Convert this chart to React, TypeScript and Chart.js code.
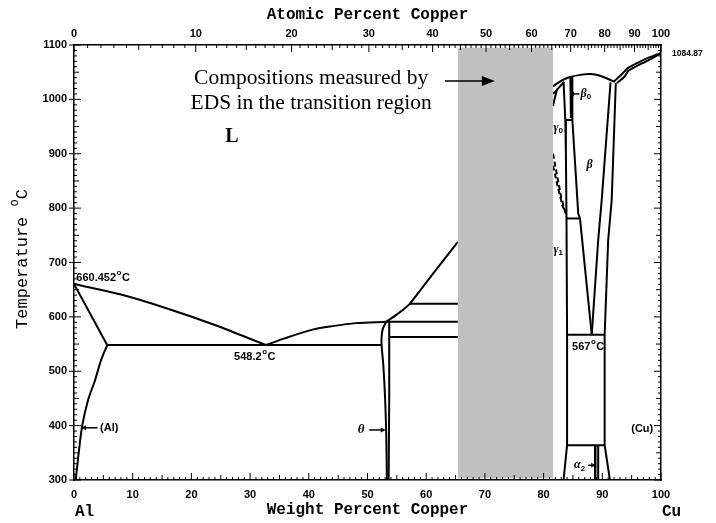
import React, { useEffect, useRef } from 'react';
import { Chart, registerables } from 'chart.js';
Chart.register(...registerables);

// ---------- axis ticks ----------
const WT_TICKS = [0, 10, 20, 30, 40, 50, 60, 70, 80, 90, 100];
const AT_TICKS = [0, 10, 20, 30, 40, 50, 60, 70, 80, 90, 100];
const TEMP_TICKS = [300, 400, 500, 600, 700, 800, 900, 1000, 1100];

// ---------- phase boundaries [wt% Cu, °C] ----------
const LIQUIDUS_AL = [[0, 660.452], [8, 641], [16, 615], [24, 585], [32.7, 548.2]];
const SOLIDUS_AL = [[0, 660.452], [5.65, 548.2]];
const SOLVUS_AL = [[5.65, 548.2], [4.6, 520], [3.6, 484], [2.4, 447], [1.4, 400], [0.8, 350], [0.3, 300]];
const EUTECTIC_548 = [[5.65, 548.2], [52.4, 548.2]];
const LIQUIDUS_THETA = [[32.7, 548.2], [36, 561], [40.8, 577], [44, 583], [48, 588.5], [53.2, 591]];
const LIQUIDUS_MID = [[53.2, 591], [55.2, 606], [57.2, 624], [61.2, 680], [65.4, 738]];
const THETA_LEFT = [[53.2, 591], [52.6, 578], [52.4, 563], [52.4, 548.2], [52.7, 510], [53.0, 450], [53.2, 380], [53.3, 300]];
const THETA_RIGHT = [[53.7, 591], [53.7, 450], [53.6, 300]];
const HORIZ_624 = [[57.2, 624], [65.4, 624]];
const HORIZ_591 = [[53.2, 591], [65.4, 591]];
const HORIZ_563 = [[53.7, 563], [65.4, 563]];

const LIQUIDUS_BETA = [[81.6, 1024], [83, 1034], [84.5, 1041], [86.5, 1045.5], [88, 1046.5], [89.5, 1044], [91, 1037.5], [92.1, 1032]];
const SOLIDUS_GAMMA0 = [[81.6, 1010], [83.5, 1032]];
const GAMMA0_LEFT = [[82.3, 1018], [81.9, 1002], [81.6, 988]];
const GAMMA1_LEFT = [[83.4, 1032], [83.7, 962], [83.8, 900], [83.9, 781], [84.0, 567], [84.0, 364], [83.4, 300]];
const BETA0_LINE = [[84.6, 1040], [84.7, 966]];
const BETA_LEFT = [[84.9, 1041], [84.9, 962], [85.9, 790], [86.2, 781], [88.2, 567]];
const HORIZ_962 = [[83.7, 962], [84.9, 962]];
const HORIZ_781 = [[83.9, 781], [86.2, 781]];
const BETA_RIGHT = [[91.4, 1031], [89.9, 815], [89.3, 741], [88.2, 567]];
const CU_SOLVUS = [[92.3, 1030], [91.6, 815], [91.0, 741], [90.4, 567], [90.4, 364], [91.3, 300]];
const EUTECTOID_567 = [[84.0, 567], [90.4, 567]];
const HORIZ_364 = [[84.0, 364], [90.4, 364]];
const ALPHA2_LEFT = [[88.8, 364], [88.8, 300]];
const ALPHA2_RIGHT = [[89.3, 364], [89.3, 300]];
const LIQUIDUS_CU = [[92.0, 1033], [93.5, 1048], [94.4, 1058], [96, 1067], [97.3, 1074], [98.7, 1080], [100, 1084.87]];
const SOLIDUS_CU = [[92.5, 1030], [93.8, 1042], [94.4, 1052], [96, 1062], [97.3, 1069], [98.7, 1077], [100, 1084.87]];
const DASHED_1 = [[81.6, 900], [82.3, 860], [83.0, 820], [83.7, 792]];
const DASHED_2 = [[81.6, 878], [82.4, 840], [83.2, 805], [83.8, 790]];

// gray EDS band [wt% from, wt% to], [°C from, °C to]
const EDS_BAND_WT = [65.4, 81.6];
const EDS_BAND_T = [303, 1095];

const atToWt = (a: number) => (100 * a * 63.546) / (a * 63.546 + (100 - a) * 26.9815);
const toPts = (a: number[][]) => a.map(([x, y]) => ({ x, y }));

const SOLID_LINES: { d: number[][]; w?: number; t?: number }[] = [
  { d: LIQUIDUS_AL, t: 0.3 }, { d: SOLIDUS_AL }, { d: SOLVUS_AL, t: 0.3 }, { d: EUTECTIC_548 },
  { d: LIQUIDUS_THETA, t: 0.3 }, { d: LIQUIDUS_MID, t: 0.15 }, { d: THETA_LEFT, t: 0.3 }, { d: THETA_RIGHT },
  { d: HORIZ_624 }, { d: HORIZ_591 }, { d: HORIZ_563 },
  { d: LIQUIDUS_BETA, t: 0.35 }, { d: SOLIDUS_GAMMA0 }, { d: GAMMA0_LEFT, t: 0.3 }, { d: GAMMA1_LEFT },
  { d: BETA0_LINE, w: 2.5 }, { d: BETA_LEFT, w: 2 }, { d: HORIZ_962 }, { d: HORIZ_781 },
  { d: BETA_RIGHT }, { d: CU_SOLVUS }, { d: EUTECTOID_567 }, { d: HORIZ_364 },
  { d: ALPHA2_LEFT, w: 2.5 }, { d: ALPHA2_RIGHT },
  { d: LIQUIDUS_CU, t: 0.3 }, { d: SOLIDUS_CU, t: 0.3 },
];
const DASHED_LINES = [DASHED_1, DASHED_2];

const TICK_FONT = "bold 11px 'Liberation Sans', Arial, sans-serif";
const MONO = "'Liberation Mono', 'DejaVu Sans Mono', monospace";
const SERIF = "'Liberation Serif', 'DejaVu Serif', serif";

function arrow(ctx: CanvasRenderingContext2D, x1: number, y1: number, x2: number, y2: number, head: number, hw: number, lw: number) {
  const ang = Math.atan2(y2 - y1, x2 - x1);
  ctx.beginPath();
  ctx.lineWidth = lw;
  ctx.moveTo(x1, y1);
  ctx.lineTo(x2 - Math.cos(ang) * head * 0.8, y2 - Math.sin(ang) * head * 0.8);
  ctx.stroke();
  ctx.beginPath();
  ctx.moveTo(x2, y2);
  ctx.lineTo(x2 - Math.cos(ang) * head - Math.sin(ang) * hw / 2, y2 - Math.sin(ang) * head + Math.cos(ang) * hw / 2);
  ctx.lineTo(x2 - Math.cos(ang) * head + Math.sin(ang) * hw / 2, y2 - Math.sin(ang) * head - Math.cos(ang) * hw / 2);
  ctx.closePath();
  ctx.fill();
}

function degText(ctx: CanvasRenderingContext2D, num: string, x: number, y: number, align: 'left' | 'center') {
  ctx.textBaseline = 'middle';
  ctx.font = TICK_FONT;
  const w1 = ctx.measureText(num).width;
  ctx.font = "bold 8px 'Liberation Sans', Arial, sans-serif";
  const w2 = ctx.measureText('o').width;
  ctx.font = TICK_FONT;
  const w3 = ctx.measureText('C').width;
  const total = w1 + w2 + w3 + 1;
  const sx = align === 'left' ? x : x - total / 2;
  ctx.textAlign = 'left';
  ctx.fillText(num, sx, y);
  ctx.font = "bold 8px 'Liberation Sans', Arial, sans-serif";
  ctx.fillText('o', sx + w1 + 0.5, y - 5);
  ctx.font = TICK_FONT;
  ctx.fillText('C', sx + w1 + w2 + 1, y);
}

function subText(ctx: CanvasRenderingContext2D, main: string, sub: string, x: number, y: number) {
  ctx.textBaseline = 'middle';
  ctx.textAlign = 'left';
  ctx.font = "bold italic 12px 'Liberation Serif', serif";
  const w = ctx.measureText(main).width;
  ctx.fillText(main, x, y);
  if (sub) {
    ctx.font = "bold 8px 'Liberation Sans', sans-serif";
    ctx.fillText(sub, x + w, y + 3);
  }
}

const decor = {
  id: 'decor',
  afterDatasetsDraw(chart: any) {
    const { ctx, scales } = chart;
    const x = scales.x, y = scales.y;
    ctx.save();
    ctx.fillStyle = '#c0c0c0';
    const x0 = x.getPixelForValue(EDS_BAND_WT[0]);
    const x1 = x.getPixelForValue(EDS_BAND_WT[1]);
    const y0 = y.getPixelForValue(EDS_BAND_T[1]);
    const y1 = y.getPixelForValue(EDS_BAND_T[0]);
    ctx.fillRect(x0, y0, x1 - x0, y1 - y0);
    ctx.restore();
  },
  afterDraw(chart: any) {
    const { ctx, chartArea: ca, scales } = chart;
    const x = scales.x, y = scales.y;
    const X = (v: number) => x.getPixelForValue(v);
    const Y = (v: number) => y.getPixelForValue(v);
    ctx.save();
    ctx.strokeStyle = '#000';
    ctx.fillStyle = '#000';
    ctx.lineWidth = 1;
    // ticks
    ctx.beginPath();
    for (let w = 0; w <= 100; w++) {
      const len = w % 10 === 0 ? 7 : w % 5 === 0 ? 5 : 3;
      const px = X(w);
      ctx.moveTo(px, ca.bottom); ctx.lineTo(px, ca.bottom - len);
    }
    for (let a = 0; a <= 100; a++) {
      const len = a % 10 === 0 ? 7 : a % 5 === 0 ? 5 : 3;
      const px = X(atToWt(a));
      ctx.moveTo(px, ca.top); ctx.lineTo(px, ca.top + len);
    }
    for (let t = 300; t <= 1100; t += 10) {
      const len = t % 100 === 0 ? 7 : t % 50 === 0 ? 5 : 3;
      const py = Y(t);
      ctx.moveTo(ca.left - (t % 100 === 0 ? 5 : 0), py); ctx.lineTo(ca.left + len, py);
      ctx.moveTo(ca.right, py); ctx.lineTo(ca.right - len, py);
    }
    ctx.stroke();

    // axis titles
    ctx.font = `bold 16px ${MONO}`;
    ctx.textAlign = 'center';
    ctx.textBaseline = 'middle';
    const cx = (ca.left + ca.right) / 2;
    ctx.fillText('Atomic Percent Copper', cx, 15);
    ctx.fillText('Weight Percent Copper', cx, 510);
    ctx.textAlign = 'left';
    ctx.fillText('Al', X(0) + 1, 512);
    ctx.fillText('Cu', X(100) + 1, 512);

    // y title
    ctx.save();
    ctx.translate(22, 259);
    ctx.rotate(-Math.PI / 2);
    ctx.font = `17px ${MONO}`;
    const t1 = 'Temperature ';
    const w1 = ctx.measureText(t1).width;
    ctx.font = `12px ${MONO}`;
    const w2 = ctx.measureText('o').width;
    ctx.font = `17px ${MONO}`;
    const w3 = ctx.measureText('C').width;
    const sx = -(w1 + w2 + w3) / 2;
    ctx.textAlign = 'left';
    ctx.textBaseline = 'middle';
    ctx.fillText(t1, sx, 0);
    ctx.font = `12px ${MONO}`;
    ctx.fillText('o', sx + w1, -7);
    ctx.font = `17px ${MONO}`;
    ctx.fillText('C', sx + w1 + w2, 0);
    ctx.restore();

    // Annotations
    ctx.font = `21.5px ${SERIF}`;
    ctx.textAlign = 'center';
    ctx.textBaseline = 'middle';
    ctx.fillText('Compositions measured by', X(40.4), Y(1039));
    ctx.fillText('EDS in the transition region', X(40.4), Y(993));
    arrow(ctx, X(63.2), Y(1034), X(71.7), Y(1034), 13, 10, 1.5);

    ctx.font = `bold 20px ${SERIF}`;
    ctx.fillText('L', X(26.9), Y(931));

    degText(ctx, '660.452', X(0.4), Y(671), 'left');
    degText(ctx, '548.2', X(30.8), Y(526), 'center');
    degText(ctx, '567', X(87.6), Y(545), 'center');

    ctx.font = "bold 8.5px 'Liberation Sans', Arial, sans-serif";
    ctx.textAlign = 'left';
    ctx.textBaseline = 'middle';
    ctx.fillText('1084.87', ca.right + 11, Y(1085));

    ctx.font = TICK_FONT;
    ctx.textAlign = 'center';
    ctx.fillText('(Al)', X(6.0), Y(396));
    arrow(ctx, X(4.0), Y(396), X(1.2), Y(396), 5, 5, 1.5);
    ctx.fillText('(Cu)', X(96.8), Y(394));

    ctx.font = "bold italic 13px 'Liberation Serif', serif";
    ctx.fillText('θ', X(48.9), Y(392));
    arrow(ctx, X(50.3), Y(392), X(53.1), Y(392), 5, 5, 1.5);

    subText(ctx, 'α', '2', X(85.2), Y(327));
    arrow(ctx, X(87.6), Y(327), X(88.8), Y(327), 4, 5, 1.5);
    subText(ctx, 'β', '0', X(86.3), Y(1010));
    arrow(ctx, X(86.1), Y(1010), X(84.5), Y(1010), 4, 5, 1.5);
    subText(ctx, 'γ', '0', X(81.7), Y(947));
    subText(ctx, 'β', '', X(87.3), Y(879));
    subText(ctx, 'γ', '1', X(81.7), Y(723));
    ctx.restore();
  },
};

const AXIS_FONT = { family: "'Liberation Sans', Arial, sans-serif", size: 11, weight: 'bold' };

export default function App() {
  const ref = useRef<HTMLCanvasElement>(null);
  useEffect(() => {
    document.body.style.margin = '0';
    const datasets: any[] = [
      ...SOLID_LINES.map((l) => ({
        data: toPts(l.d),
        showLine: true,
        borderColor: '#000',
        borderWidth: l.w ?? 2,
        pointRadius: 0,
        tension: l.t ?? 0,
        fill: false,
      })),
      ...DASHED_LINES.map((d) => ({
        data: toPts(d),
        showLine: true,
        borderColor: '#000',
        borderWidth: 2,
        borderDash: [5, 3],
        pointRadius: 0,
        tension: 0,
        fill: false,
      })),
    ];
    const chart = new Chart(ref.current!, {
      type: 'scatter',
      data: { datasets },
      plugins: [decor],
      options: {
        responsive: false,
        animation: false,
        devicePixelRatio: 1,
        layout: { padding: 0 },
        plugins: { legend: { display: false }, tooltip: { enabled: false }, title: { display: false } },
        scales: {
          x: {
            type: 'linear', position: 'bottom', min: 0, max: 100,
            afterBuildTicks: (s: any) => { s.ticks = WT_TICKS.map((v) => ({ value: v })); },
            afterFit: (s: any) => { s.height = 43; },
            ticks: { autoSkip: false, maxRotation: 0, padding: 8, color: '#000', font: AXIS_FONT, callback: (v: any) => String(v) },
            grid: { drawOnChartArea: false, drawTicks: false },
            border: { display: true, color: '#000', width: 1.5 },
          },
          x2: {
            type: 'linear', position: 'top', min: 0, max: 100,
            afterBuildTicks: (s: any) => { s.ticks = AT_TICKS.map((a) => ({ value: atToWt(a) })); },
            afterFit: (s: any) => { s.height = 45; },
            ticks: {
              autoSkip: false, maxRotation: 0, padding: 4, color: '#000', font: AXIS_FONT,
              callback: (_v: any, i: number) => String(AT_TICKS[i]),
            },
            grid: { drawOnChartArea: false, drawTicks: false },
            border: { display: true, color: '#000', width: 1.5 },
          },
          y: {
            type: 'linear', position: 'left', min: 300, max: 1100,
            afterBuildTicks: (s: any) => { s.ticks = TEMP_TICKS.map((v) => ({ value: v })); },
            afterFit: (s: any) => { s.width = 74; },
            ticks: { autoSkip: false, padding: 7, color: '#000', font: AXIS_FONT, callback: (v: any) => String(v) },
            grid: { drawOnChartArea: false, drawTicks: false },
            border: { display: true, color: '#000', width: 1.5 },
          },
          y2: {
            type: 'linear', position: 'right', min: 300, max: 1100,
            afterFit: (s: any) => { s.width = 55; },
            ticks: { display: false },
            grid: { drawOnChartArea: false, drawTicks: false },
            border: { display: true, color: '#000', width: 1.5 },
          },
        },
      } as any,
    });
    return () => chart.destroy();
  }, []);
  return (
    <div style={{ width: 716, height: 523 }}>
      <canvas ref={ref} width={716} height={523} style={{ display: 'block', width: 716, height: 523 }} />
    </div>
  );
}
